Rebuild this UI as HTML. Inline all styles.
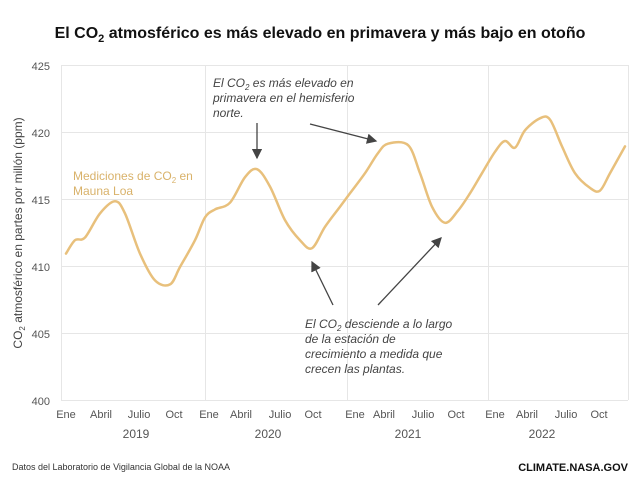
<!DOCTYPE html>
<html><head><meta charset="utf-8"><style>
body{margin:0;background:#fff;width:640px;height:480px;overflow:hidden;font-family:"Liberation Sans",sans-serif}
</style></head><body>
<svg width="640" height="480" xmlns="http://www.w3.org/2000/svg" font-family="Liberation Sans, sans-serif">
<text x="320" y="38" text-anchor="middle" font-size="16" font-weight="bold" fill="#111">El CO<tspan font-size="11" dy="4">2</tspan><tspan dy="-4"> atmosférico es más elevado en primavera y más bajo en otoño</tspan></text>
<g stroke="#e6e6e6" stroke-width="1">
<line x1="61" y1="65.5" x2="628" y2="65.5"/><line x1="61" y1="132.5" x2="628" y2="132.5"/><line x1="61" y1="199.5" x2="628" y2="199.5"/><line x1="61" y1="266.5" x2="628" y2="266.5"/><line x1="61" y1="333.5" x2="628" y2="333.5"/><line x1="61" y1="400.5" x2="628" y2="400.5"/>
<line x1="61.5" y1="65" x2="61.5" y2="400"/><line x1="205.5" y1="65" x2="205.5" y2="400"/><line x1="347.5" y1="65" x2="347.5" y2="400"/><line x1="488.5" y1="65" x2="488.5" y2="400"/><line x1="628.5" y1="65" x2="628.5" y2="400"/>
</g>
<g font-size="11" fill="#555" text-anchor="end">
<text x="50" y="70">425</text><text x="50" y="137">420</text><text x="50" y="204">415</text><text x="50" y="271">410</text><text x="50" y="338">405</text><text x="50" y="405">400</text>
</g>
<text transform="translate(22,233) rotate(-90)" text-anchor="middle" font-size="12" fill="#444">CO<tspan font-size="8" dy="3">2</tspan><tspan dy="-3"> atmosférico en partes por millón (ppm)</tspan></text>
<g font-size="11" fill="#555" text-anchor="middle">
<text x="66" y="418">Ene</text><text x="101" y="418">Abril</text><text x="139" y="418">Julio</text><text x="174" y="418">Oct</text>
<text x="209" y="418">Ene</text><text x="241" y="418">Abril</text><text x="280" y="418">Julio</text><text x="313" y="418">Oct</text>
<text x="355" y="418">Ene</text><text x="384" y="418">Abril</text><text x="423" y="418">Julio</text><text x="456" y="418">Oct</text>
<text x="495" y="418">Ene</text><text x="527" y="418">Abril</text><text x="566" y="418">Julio</text><text x="599" y="418">Oct</text>
<text x="136" y="438" font-size="12">2019</text><text x="268" y="438" font-size="12">2020</text><text x="408" y="438" font-size="12">2021</text><text x="542" y="438" font-size="12">2022</text>
</g>
<path id="c" fill="none" stroke="#e8c07c" stroke-width="2.5" stroke-linejoin="round" stroke-linecap="round" d="M66,253.6"/>
<text x="73" y="180" font-size="12" fill="#d9b26a">Mediciones de CO<tspan font-size="8" dy="3">2</tspan><tspan dy="-3"> en</tspan></text>
<text x="73" y="195" font-size="12" fill="#d9b26a">Mauna Loa</text>
<g font-size="12" font-style="italic" fill="#444">
<text x="213" y="87">El CO<tspan font-size="8" dy="3">2</tspan><tspan dy="-3"> es más elevado en</tspan></text>
<text x="213" y="102">primavera en el hemisferio</text>
<text x="213" y="117">norte.</text>
<text x="305" y="328">El CO<tspan font-size="8" dy="3">2</tspan><tspan dy="-3"> desciende a lo largo</tspan></text>
<text x="305" y="343">de la estación de</text>
<text x="305" y="358">crecimiento a medida que</text>
<text x="305" y="373">crecen las plantas.</text>
</g>
<defs><marker id="a" markerWidth="8" markerHeight="8" refX="7" refY="4" orient="auto"><path d="M0,0 L8,4 L0,8 Z" fill="#444"/></marker></defs>
<g stroke="#444" stroke-width="1.3" marker-end="url(#a)">
<line x1="257" y1="123" x2="257" y2="158"/>
<line x1="310" y1="124" x2="376" y2="141"/>
<line x1="333" y1="305" x2="312" y2="262"/>
<line x1="378" y1="305" x2="441" y2="238"/>
</g>
<text x="12" y="470" font-size="9" fill="#333">Datos del Laboratorio de Vigilancia Global de la NOAA</text>
<text x="628" y="471" font-size="11" font-weight="bold" fill="#111" text-anchor="end">CLIMATE.NASA.GOV</text>
</svg>
<script>
var p=[[66,253.6],[75,240.2],[85,237.5],[100,213.4],[115,201.3],[125,213.4],[140,253.6],[155,280.4],[170,284.4],[180,267],[195,240.2],[205,217.4],[215,209.4],[230,202.7],[245,177.2],[257,169.2],[270,186.6],[285,220.1],[300,240.2],[312,248.2],[325,226.8],[340,206.7],[350,193.3],[365,173.2],[378,153.1],[388,143.7],[408,145.1],[420,173.2],[432,206.7],[445,222.8],[458,210.7],[470,193.3],[482,173.2],[495,151.8],[505,141],[515,147.7],[525,130.3],[540,118.3],[550,119.6],[562,146.4],[575,173.2],[590,187.9],[600,190.6],[610,173.2],[625,146.4]];
var d="M"+p[0][0]+","+p[0][1];
for(var i=0;i<p.length-1;i++){var a=p[i-1]||p[i],b=p[i],c=p[i+1],e=p[i+2]||c;
d+=" C"+(b[0]+(c[0]-a[0])/6)+","+(b[1]+(c[1]-a[1])/6)+" "+(c[0]-(e[0]-b[0])/6)+","+(c[1]-(e[1]-b[1])/6)+" "+c[0]+","+c[1];}
document.getElementById("c").setAttribute("d",d);
</script>
</body></html>
